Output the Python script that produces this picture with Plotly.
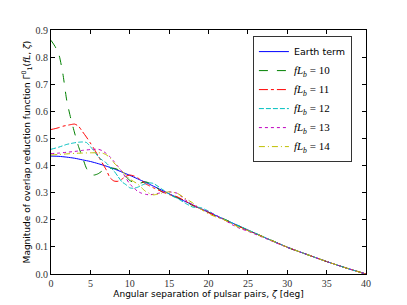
import plotly.graph_objects as go

# Earth term
x_earth = [0, 1, 2, 3, 4, 5, 6, 7, 8, 9, 10, 11, 12, 13, 14, 15, 16, 17, 18, 19, 20,
           22.5, 25, 27.5, 30, 32.5, 35, 37.5, 40]
y_earth = [0.435, 0.434, 0.431, 0.427, 0.421, 0.415, 0.407, 0.398, 0.388, 0.376, 0.364,
           0.351, 0.338, 0.324, 0.31, 0.296, 0.282, 0.268, 0.255, 0.241, 0.228,
           0.195, 0.162, 0.13, 0.099, 0.072, 0.046, 0.022, 0.0]

# fL_b = 10
x_10 = [0, 0.5, 1, 1.5, 2, 2.5, 3, 3.5, 4, 4.5, 5, 5.5, 6, 6.5, 7, 7.5, 8, 8.5, 9, 9.5, 10,
        11, 12, 13, 14, 15, 16, 17, 18, 19, 20, 22.5, 25, 27.5, 30, 32.5, 35, 37.5, 40]
y_10 = [0.862, 0.84, 0.81, 0.74, 0.64, 0.575, 0.52, 0.47, 0.43, 0.39, 0.368, 0.365, 0.37,
        0.38, 0.385, 0.39, 0.39, 0.385, 0.372, 0.36, 0.345, 0.333, 0.34, 0.328, 0.305,
        0.29, 0.282, 0.27, 0.252, 0.242, 0.228, 0.196, 0.161, 0.131, 0.098, 0.072, 0.046,
        0.022, 0.0]

# fL_b = 11
x_11 = [0, 0.5, 1, 1.5, 2, 2.5, 3, 3.5, 4, 4.5, 5, 5.5, 6, 6.5, 7, 7.5, 8, 8.5, 9, 9.5, 10,
        10.5, 11, 12, 13, 14, 15, 16, 17, 18, 19, 20, 22.5, 25, 27.5, 30, 32.5, 35, 37.5, 40]
y_11 = [0.533, 0.536, 0.54, 0.545, 0.548, 0.551, 0.553, 0.545, 0.525, 0.505, 0.483, 0.46,
        0.435, 0.41, 0.385, 0.355, 0.343, 0.342, 0.35, 0.36, 0.365, 0.362, 0.355, 0.333,
        0.318, 0.305, 0.293, 0.285, 0.27, 0.254, 0.24, 0.226, 0.193, 0.161, 0.13, 0.099,
        0.072, 0.046, 0.022, 0.0]

# fL_b = 12
x_12 = [0, 1, 2, 3, 3.5, 4, 4.5, 5, 5.5, 6, 6.5, 7, 7.5, 8, 8.5, 9, 9.5, 10, 10.5, 11,
        11.5, 12, 12.5, 13, 14, 15, 16, 17, 18, 19, 20, 21, 22.5, 25, 27.5, 30, 32.5, 35,
        37.5, 40]
y_12 = [0.46, 0.468, 0.478, 0.484, 0.486, 0.487, 0.485, 0.47, 0.452, 0.433, 0.42, 0.41,
        0.395, 0.38, 0.36, 0.34, 0.33, 0.318, 0.316, 0.32, 0.327, 0.333, 0.336, 0.334,
        0.315, 0.295, 0.28, 0.262, 0.247, 0.245, 0.232, 0.215, 0.195, 0.163, 0.13, 0.099,
        0.072, 0.046, 0.022, 0.0]

# fL_b = 13
x_13 = [0, 1, 2, 3, 4, 5, 5.5, 6, 6.5, 7, 7.5, 8, 8.5, 9, 9.5, 10, 10.5, 11, 11.5, 12,
        12.5, 13, 14, 14.5, 15, 16, 17, 18, 19, 20, 21, 22, 23, 24, 25, 27.5, 30, 32.5,
        35, 37.5, 40]
y_13 = [0.444, 0.446, 0.449, 0.452, 0.456, 0.459, 0.46, 0.46, 0.455, 0.445, 0.432, 0.415,
        0.397, 0.378, 0.355, 0.332, 0.318, 0.305, 0.298, 0.294, 0.292, 0.294, 0.3, 0.303,
        0.303, 0.298, 0.275, 0.255, 0.24, 0.23, 0.216, 0.2, 0.182, 0.168, 0.158, 0.128,
        0.098, 0.072, 0.046, 0.022, 0.0]

# fL_b = 14
x_14 = [0, 1, 2, 3, 4, 5, 6, 6.5, 7, 7.5, 8, 8.5, 9, 9.5, 10, 11, 12, 13, 14, 15, 16, 17,
        18, 19, 20, 21, 22, 23, 24, 25, 27.5, 30, 32.5, 35, 37.5, 40]
y_14 = [0.439, 0.441, 0.443, 0.445, 0.446, 0.447, 0.447, 0.446, 0.44, 0.428, 0.41, 0.395,
        0.38, 0.365, 0.35, 0.332, 0.305, 0.292, 0.298, 0.303, 0.298, 0.28, 0.262, 0.24,
        0.222, 0.21, 0.2, 0.185, 0.17, 0.16, 0.13, 0.099, 0.072, 0.046, 0.022, 0.0]

x_ticks = [0, 5, 10, 15, 20, 25, 30, 35, 40]
y_ticks = [0.0, 0.1, 0.2, 0.3, 0.4, 0.5, 0.6, 0.7, 0.8, 0.9]

SERIF = "Liberation Serif"
SANS = "DejaVu Sans"

def math_label(n):
    return (f'<span style="font-family:{SERIF}; font-size:11px"><i>fL</i>'
            f'<sub><i>b</i></sub> = {n}</span>')

series = [
    ("Earth term", x_earth, y_earth, "#0000ff", "solid"),
    (math_label(10), x_10, y_10, "#008000", "dash"),
    (math_label(11), x_11, y_11, "#ff0000", "dashdot"),
    (math_label(12), x_12, y_12, "#00bfbf", "5px,2px"),
    (math_label(13), x_13, y_13, "#bf00bf", "dot"),
    (math_label(14), x_14, y_14, "#bfbf00", "6px,3px,1px,3px"),
]

fig = go.Figure()
for name, xs, ys, color, dash in series:
    fig.add_trace(go.Scatter(x=xs, y=ys, mode="lines", name=name,
                             line=dict(color=color, width=1, dash=dash, shape="spline",
                                       smoothing=0.6)))

axis_common = dict(showgrid=False, zeroline=False, showline=True, linecolor="black",
                   linewidth=1, mirror="ticks", ticks="inside", ticklen=4,
                   tickcolor="black", automargin=False,
                   tickfont=dict(family=SERIF, size=10, color="#333333"))

fig.update_xaxes(range=[0, 40], tickvals=x_ticks, ticktext=[str(v) for v in x_ticks],
                 title=dict(text="Angular separation of pulsar pairs, <i>ζ</i> [deg]",
                            font=dict(family=SANS, size=9, color="black"), standoff=0),
                 **axis_common)
fig.update_yaxes(range=[0, 0.9], tickvals=y_ticks, ticktext=[f"{v:.1f}" for v in y_ticks],
                 title=dict(text="Magnitude of overlap reduction function "
                                 "Γ<sup>0</sup><sub>1</sub>(<i>fL</i>, <i>ζ</i>)",
                            font=dict(family=SANS, size=9, color="black"), standoff=3),
                 **axis_common)

# The page body adds an 8px offset, so the figure is sized to fit the 407x305 window.
fig.update_layout(
    width=399, height=297,
    margin=dict(l=43, r=41, t=22, b=31),
    paper_bgcolor="white", plot_bgcolor="white",
    showlegend=True,
    legend=dict(x=0.641, y=0.975, xanchor="left", yanchor="top",
                bgcolor="white", bordercolor="#333333", borderwidth=1,
                font=dict(family=SANS, size=9.5, color="black"),
                tracegroupgap=0, itemwidth=30),
)

fig.write_html("out.html")
